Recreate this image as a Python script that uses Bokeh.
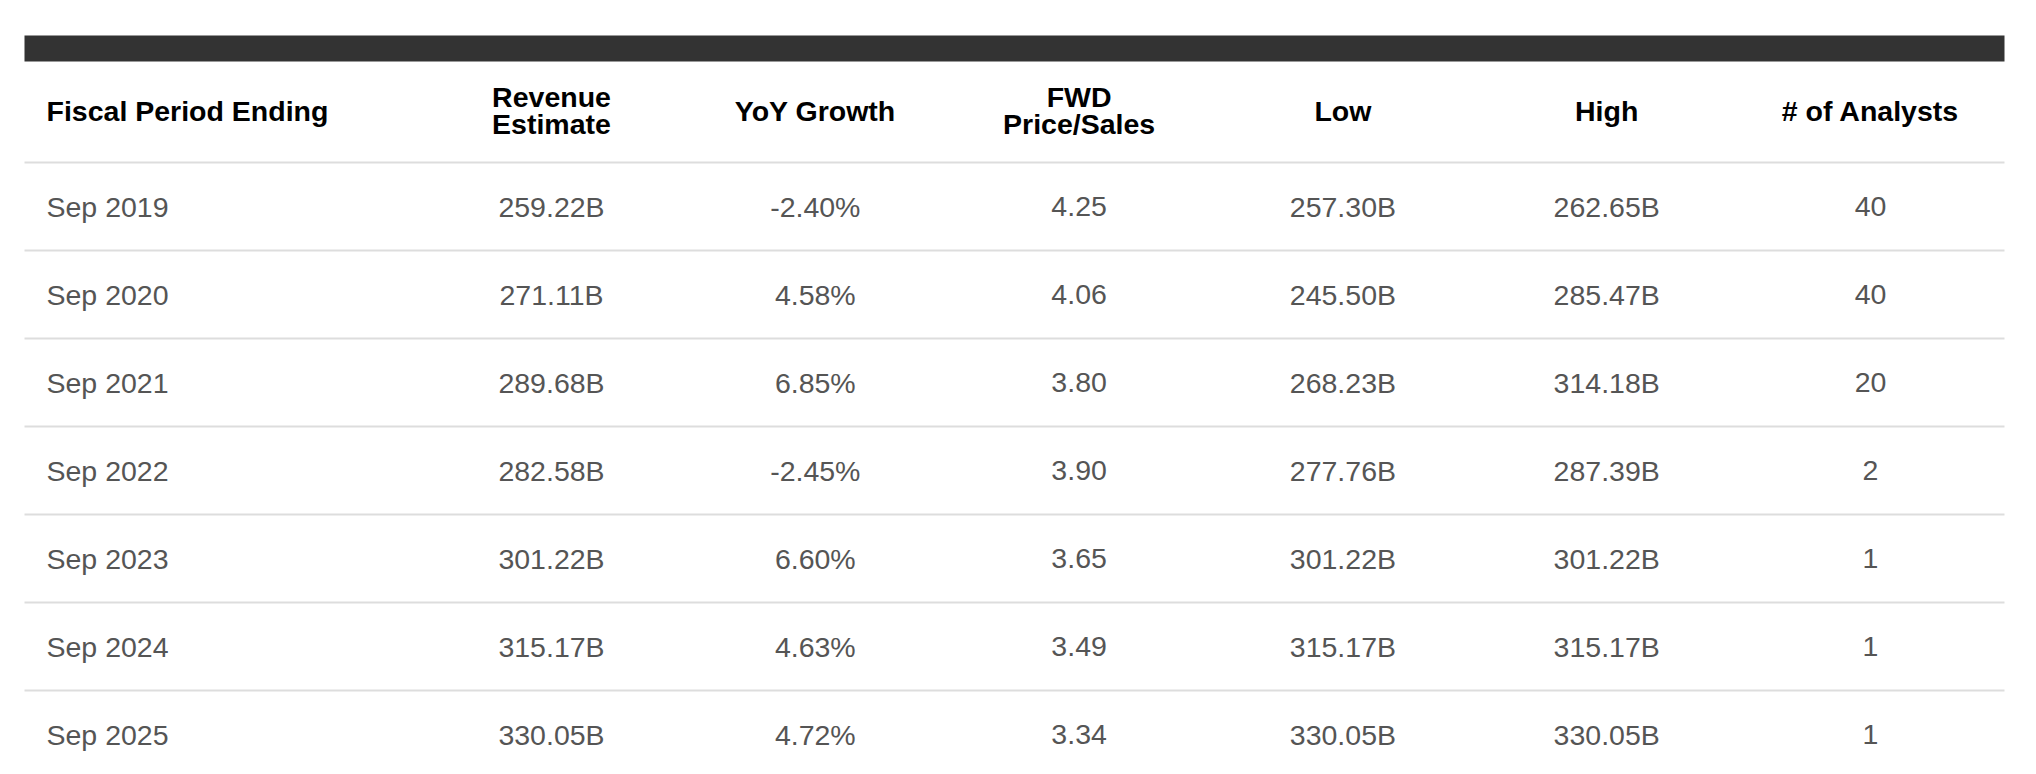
from bokeh.plotting import figure
from bokeh.models import ColumnDataSource, Range1d
from bokeh.core.properties import value
from bokeh.embed import file_html
from bokeh.resources import INLINE

# ---- data ----
headers = ["Fiscal Period Ending", "Revenue\nEstimate", "YoY Growth", "FWD\nPrice/Sales",
           "Low", "High", "# of Analysts"]
periods = ["Sep 2019", "Sep 2020", "Sep 2021", "Sep 2022", "Sep 2023", "Sep 2024", "Sep 2025"]
revenue_estimate = ["259.22B", "271.11B", "289.68B", "282.58B", "301.22B", "315.17B", "330.05B"]
yoy_growth = ["-2.40%", "4.58%", "6.85%", "-2.45%", "6.60%", "4.63%", "4.72%"]
fwd_price_sales = ["4.25", "4.06", "3.80", "3.90", "3.65", "3.49", "3.34"]
low = ["257.30B", "245.50B", "268.23B", "277.76B", "301.22B", "315.17B", "330.05B"]
high = ["262.65B", "285.47B", "314.18B", "287.39B", "301.22B", "315.17B", "330.05B"]
analysts = [40, 40, 20, 2, 1, 1, 1]

# ---- layout (pixels in figure space) ----
W, H = 2020, 766
OFF = 8
TABLE_L, TABLE_R = 16, 1996
BAR_TOP, BAR_BOT = 27, 53
HEADER_Y = 102
HEADER_LINE_GAP = 27.5
HEADER_RULE = 154
ROW_H = 88
FIRST_COL_X = 38
COL0_CENTER = 543
COL_STEP = 263.8
FONT = "Liberation Sans"

p = figure(width=W, height=H, output_backend="svg", toolbar_location=None,
           x_range=Range1d(-OFF, W - OFF), y_range=Range1d(H - OFF, -OFF),
           x_axis_location=None, y_axis_location=None,
           min_border=0, outline_line_color=None, tools="")
p.grid.visible = False
p.background_fill_color = "white"
p.border_fill_color = "white"

# dark top bar
p.quad(left=[TABLE_L], right=[TABLE_R], top=[BAR_TOP], bottom=[BAR_BOT],
       fill_color="#333333", line_color=None)

# rules
n = len(periods)
rule_y = [HEADER_RULE + ROW_H * k for k in range(n)]
p.segment(x0=[TABLE_L] * n, x1=[TABLE_R] * n, y0=rule_y, y1=rule_y,
          line_color="#dddddd", line_width=2)

# headers
col_x = [FIRST_COL_X] + [COL0_CENTER + COL_STEP * k for k in range(len(headers) - 1)]
hx, hy, ht, ha = [], [], [], []
for i, h in enumerate(headers):
    parts = h.split("\n")
    m = len(parts)
    for j, part in enumerate(parts):
        hx.append(col_x[i])
        hy.append(HEADER_Y + (j - (m - 1) / 2) * HEADER_LINE_GAP)
        ht.append(part)
        ha.append("left" if i == 0 else "center")
p.text(x="x", y="y", text="t", text_align="a",
       source=ColumnDataSource(dict(x=hx, y=hy, t=ht, a=ha)),
       text_font=value(FONT), text_font_style="bold", text_font_size="28.5px",
       text_color="#000000", text_baseline="middle")

# body cells
columns = [periods, revenue_estimate, yoy_growth, fwd_price_sales, low, high,
           [str(a) for a in analysts]]
bx, by, bt, ba = [], [], [], []
for i, col in enumerate(columns):
    for r, v in enumerate(col):
        bx.append(col_x[i])
        by.append(HEADER_RULE + ROW_H * r + ROW_H / 2)
        bt.append(v)
        ba.append("left" if i == 0 else "center")
p.text(x="x", y="y", text="t", text_align="a",
       source=ColumnDataSource(dict(x=bx, y=by, t=bt, a=ba)),
       text_font=value(FONT), text_font_size="28.5px",
       text_color="#555555", text_baseline="middle")

open("out.html", "w").write(file_html(p, INLINE))
